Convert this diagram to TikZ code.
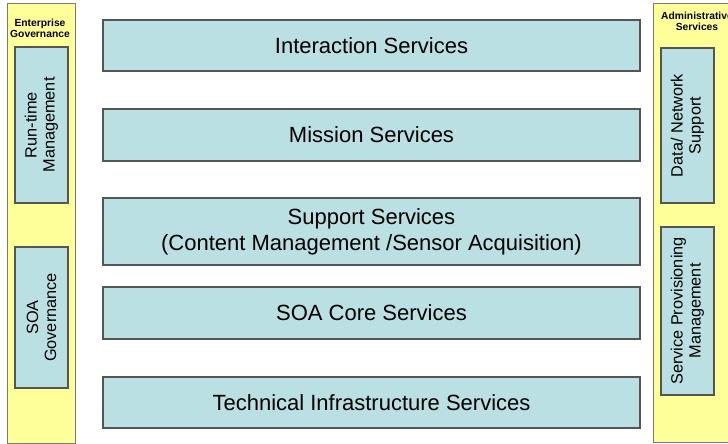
\documentclass[tikz,border=0pt]{standalone}
\usepackage{fontspec}
\setmainfont{Liberation Sans}
\definecolor{panelfill}{HTML}{FFFF99}
\definecolor{panelline}{HTML}{7A7A7A}
\definecolor{boxfill}{HTML}{BBE0E3}
\definecolor{boxline}{HTML}{555555}
\tikzset{
  panel/.style={draw=panelline, fill=panelfill, line width=1pt, inner sep=0pt},
  layer/.style={draw=boxline, fill=boxfill, line width=1.1pt, inner sep=0pt, minimum width=537pt,
    align=center, font=\fontsize{22}{26}\selectfont},
  sidebox/.style={draw=boxline, fill=boxfill, line width=1.1pt, inner sep=0pt, minimum width=53pt},
  sidetext/.style={rotate=90, align=center, font=\fontsize{16.3}{18}\selectfont},
  header/.style={align=center, font=\bfseries\fontsize{10.3}{11.5}\selectfont, inner sep=0pt}
}
\begin{document}
\begin{tikzpicture}[x=1pt,y=1pt]
\useasboundingbox (0,0) rectangle (728,-444);
% left panel
\node[panel, minimum width=68pt, minimum height=439pt] (lp) at (41,-223.5) {};
\node[header] (lph) at (40,-28.5) {Enterprise\\Governance};
\node[sidebox, minimum height=156pt] (rtm) at (41.5,-125) {};
\node[sidetext] (rtmt) at (rtm.center) {Run-time\\Management};
\node[sidebox, minimum height=141pt] (soag) at (41.5,-317.5) {};
\node[sidetext] (soagt) at (soag.center) {SOA\\Governance};
% right panel
\node[panel, minimum width=87pt, minimum height=438pt] (rp) at (696.5,-223) {};
\node[header] (rph) at (697,-21.5) {Administrative\\Services};
\node[sidebox, minimum height=155pt] (dns) at (687.5,-125.5) {};
\node[sidetext] (dnst) at (dns.center) {Data/ Network\\Support};
\node[sidebox, minimum height=168pt] (spm) at (687.5,-311) {};
\node[sidetext] (spmt) at (spm.center) {Service Provisioning\\Management};
% central layers
\node[layer, minimum height=51pt] (inter) at (371.5,-45.5) {Interaction Services};
\node[layer, minimum height=52pt] (miss) at (371.5,-135) {Mission Services};
\node[layer, minimum height=67pt] (supp) at (371.5,-231.5) {Support Services\\(Content Management /Sensor Acquisition)};
\node[layer, minimum height=52pt] (core) at (371.5,-313) {SOA Core Services};
\node[layer, minimum height=51pt] (tech) at (371.5,-402.5) {Technical Infrastructure Services};
\end{tikzpicture}
\end{document}
